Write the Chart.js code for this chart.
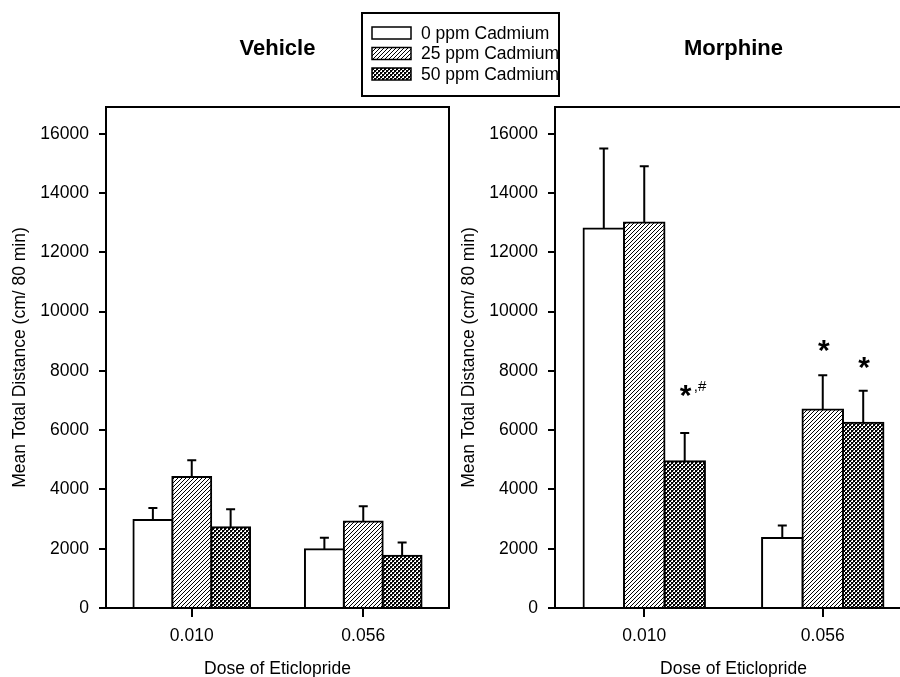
<!DOCTYPE html>
<html>
<head>
<meta charset="utf-8">
<script src="https://cdn.jsdelivr.net/npm/chart.js@4"></script>
<style>
  html, body { margin: 0; padding: 0; background: #fff; }
  #wrap { position: relative; width: 900px; height: 677px; overflow: hidden; background: #fff; }
  canvas { position: absolute; top: 0; }
  #left { left: 0; }
  #right { left: 449px; }
</style>
</head>
<body>
<div id="wrap">
  <canvas id="left" width="900" height="677"></canvas>
  <canvas id="right" width="470" height="677"></canvas>
</div>
<script>
const doses = ['0.010', '0.056'];
const seriesNames = ['0 ppm Cadmium', '25 ppm Cadmium', '50 ppm Cadmium'];

// Vehicle panel
const vehicle0 = [2970, 1980];
const vehicle25 = [4420, 2920];
const vehicle50 = [2720, 1760];
const vehicleErr0 = [400, 390];
const vehicleErr25 = [560, 515];
const vehicleErr50 = [610, 450];

// Morphine panel
const morphine0 = [12800, 2360];
const morphine25 = [13000, 6700];
const morphine50 = [4950, 6250];
const morphineErr0 = [2700, 420];
const morphineErr25 = [1900, 1150];
const morphineErr50 = [950, 1080];

// significance marks on the morphine panel
const markSeries = [2, 1, 2];
const markDose = [0, 1, 1];
const markText = ['*', '*', '*'];
const markSuffix = [',#', '', ''];
const markValue = [7440, 8970, 8410];

const yTicks = [0, 2000, 4000, 6000, 8000, 10000, 12000, 14000, 16000];

const FONT = "'Liberation Sans', Arial, sans-serif";

function makeHatch() {
  const c = document.createElement('canvas');
  c.width = 4; c.height = 4;
  const g = c.getContext('2d');
  g.fillStyle = '#fff';
  g.fillRect(0, 0, 4, 4);
  g.strokeStyle = '#000';
  g.lineWidth = 1;
  g.beginPath();
  g.moveTo(0, 4); g.lineTo(4, 0);
  g.moveTo(-1, 1); g.lineTo(1, -1);
  g.moveTo(3, 5); g.lineTo(5, 3);
  g.stroke();
  return g.createPattern(c, 'repeat');
}

function makeCross() {
  const c = document.createElement('canvas');
  c.width = 4; c.height = 4;
  const g = c.getContext('2d');
  g.fillStyle = '#fff';
  g.fillRect(0, 0, 4, 4);
  g.fillStyle = '#000';
  g.fillRect(0, 0, 2, 2);
  g.fillRect(2, 2, 2, 2);
  g.fillStyle = '#555';
  g.fillRect(2, 0, 1, 1);
  g.fillRect(0, 2, 1, 1);
  return g.createPattern(c, 'repeat');
}

const fills = ['#fff', makeHatch(), makeCross()];

const errorBars = {
  id: 'errorBars',
  afterDatasetsDraw(chart, args, opts) {
    const ctx = chart.ctx;
    const y = chart.scales.y;
    ctx.save();
    ctx.strokeStyle = '#000';
    ctx.lineWidth = 2;
    chart.data.datasets.forEach((ds, i) => {
      chart.getDatasetMeta(i).data.forEach((bar, j) => {
        const top = y.getPixelForValue(ds.data[j] + ds.err[j]);
        ctx.beginPath();
        ctx.moveTo(bar.x, bar.y);
        ctx.lineTo(bar.x, top);
        ctx.moveTo(bar.x - 4.5, top);
        ctx.lineTo(bar.x + 4.5, top);
        ctx.stroke();
      });
    });
    ctx.restore();
  }
};

const panelFrame = {
  id: 'panelFrame',
  afterDraw(chart, args, opts) {
    const ctx = chart.ctx;
    const a = chart.chartArea;
    ctx.save();
    ctx.strokeStyle = '#000';
    ctx.lineWidth = 2;
    ctx.beginPath();
    ctx.moveTo(a.left, a.top);
    ctx.lineTo(a.right, a.top);
    ctx.lineTo(a.right, a.bottom);
    ctx.stroke();
    ctx.fillStyle = '#000';
    ctx.font = 'bold 22px ' + FONT;
    ctx.textAlign = 'center';
    ctx.textBaseline = 'alphabetic';
    ctx.fillText(opts.title, (a.left + a.right) / 2, 55);
    ctx.restore();
  }
};

const legendBox = {
  id: 'legendBox',
  afterDraw(chart, args, opts) {
    if (!opts.show) return;
    const ctx = chart.ctx;
    ctx.save();
    ctx.strokeStyle = '#000';
    ctx.lineWidth = 2;
    ctx.strokeRect(362, 13, 197, 83);
    ctx.font = '17.5px ' + FONT;
    ctx.textBaseline = 'middle';
    ctx.fillStyle = '#000';
    chart.data.datasets.forEach((ds, i) => {
      const cy = 33 + i * 20.5;
      ctx.fillStyle = ds.backgroundColor;
      ctx.fillRect(372, cy - 6, 39, 12);
      ctx.lineWidth = 1.5;
      ctx.strokeRect(372, cy - 6, 39, 12);
      ctx.fillStyle = '#000';
      ctx.fillText(ds.label, 421, cy + 1);
    });
    ctx.restore();
  }
};

const sigMarks = {
  id: 'sigMarks',
  afterDatasetsDraw(chart, args, opts) {
    if (!opts.show) return;
    const ctx = chart.ctx;
    const y = chart.scales.y;
    ctx.save();
    ctx.fillStyle = '#000';
    markText.forEach((t, k) => {
      const bar = chart.getDatasetMeta(markSeries[k]).data[markDose[k]];
      const py = y.getPixelForValue(markValue[k]);
      ctx.font = 'bold 30px ' + FONT;
      ctx.textAlign = 'center';
      ctx.textBaseline = 'alphabetic';
      ctx.fillText(t, bar.x + 1, py + 18);
      if (markSuffix[k]) {
        ctx.font = '15px ' + FONT;
        ctx.textAlign = 'left';
        ctx.fillText(markSuffix[k], bar.x + 9, py + 4);
      }
    });
    ctx.restore();
  }
};

function buildChart(canvas, values, errs, title, rightPad, isLeft) {
  const datasets = seriesNames.map((name, i) => ({
    label: name,
    data: values[i],
    err: errs[i],
    backgroundColor: fills[i],
    borderColor: '#000',
    borderWidth: 2,
    inflateAmount: 1,
    categoryPercentage: 0.68,
    barPercentage: 1
  }));
  return new Chart(canvas, {
    type: 'bar',
    data: { labels: doses, datasets: datasets },
    options: {
      responsive: false,
      animation: false,
      layout: { padding: { top: 107, right: rightPad, left: 0, bottom: 0 } },
      plugins: {
        legend: { display: false },
        tooltip: { enabled: false },
        panelFrame: { title: title },
        legendBox: { show: isLeft },
        sigMarks: { show: !isLeft }
      },
      scales: {
        x: {
          grid: { display: true, drawOnChartArea: false, drawTicks: true, tickLength: 9, offset: false, color: '#000', lineWidth: 2 },
          border: { display: true, color: '#000', width: 2 },
          ticks: { color: '#000', font: { family: FONT, size: 17.5 }, padding: 9, maxRotation: 0 },
          title: { display: true, text: 'Dose of Eticlopride', color: '#000', font: { family: FONT, size: 17.5 }, padding: { top: 0, bottom: -3 } },
          afterFit: s => { s.height = 69; }
        },
        y: {
          min: 0,
          max: 16900,
          grid: { display: true, drawOnChartArea: false, drawTicks: true, tickLength: 7, color: '#000', lineWidth: 2 },
          border: { display: true, color: '#000', width: 2 },
          ticks: { color: '#000', font: { family: FONT, size: 17.5 }, padding: 10, callback: v => String(v) },
          title: { display: true, text: 'Mean Total Distance (cm/ 80 min)', color: '#000', font: { family: FONT, size: 17.5 }, padding: { top: 10, bottom: 0 } },
          afterBuildTicks: s => { s.ticks = yTicks.map(v => ({ value: v })); },
          afterFit: s => { s.width = 106; }
        }
      }
    },
    plugins: [errorBars, panelFrame, legendBox, sigMarks]
  });
}

buildChart(document.getElementById('left'),
  [vehicle0, vehicle25, vehicle50],
  [vehicleErr0, vehicleErr25, vehicleErr50],
  'Vehicle', 451, true);

buildChart(document.getElementById('right'),
  [morphine0, morphine25, morphine50],
  [morphineErr0, morphineErr25, morphineErr50],
  'Morphine', 7, false);
</script>
</body>
</html>
